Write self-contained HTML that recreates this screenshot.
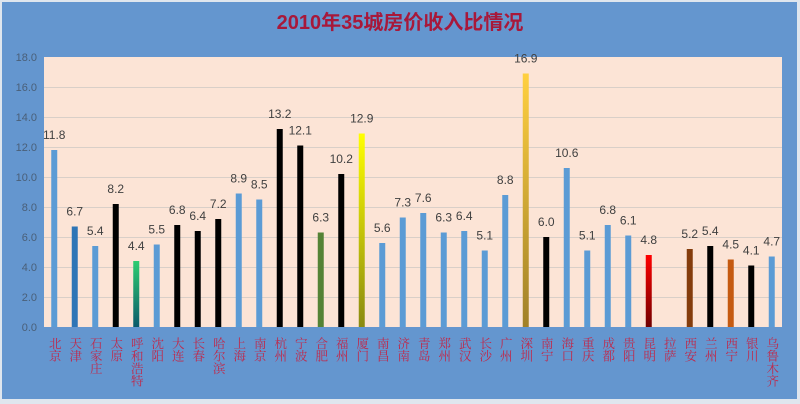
<!DOCTYPE html>
<html><head><meta charset="utf-8"><style>
html,body{margin:0;padding:0;background:#dfe6ee}
svg{display:block}
.v{font-family:"Liberation Sans",sans-serif;font-size:12px;fill:#404040;text-anchor:middle}
.y{font-family:"Liberation Sans",sans-serif;font-size:11px;fill:#4a5f78;text-anchor:end}
.c{font-family:"Liberation Serif","Noto Serif CJK SC",serif;font-size:12.5px;fill:#c0284a;writing-mode:tb;glyph-orientation-vertical:0}
</style></head><body>
<svg width="800" height="404" viewBox="0 0 800 404">
<defs>
<linearGradient id="g1" x1="0" y1="0" x2="0" y2="1"><stop offset="0" stop-color="#2ecc71"/><stop offset="1" stop-color="#0b5a6a"/></linearGradient>
<linearGradient id="g2" x1="0" y1="0" x2="0" y2="1"><stop offset="0" stop-color="#ffff00"/><stop offset="1" stop-color="#8a8a10"/></linearGradient>
<linearGradient id="g3" x1="0" y1="0" x2="0" y2="1"><stop offset="0" stop-color="#ffd040"/><stop offset="1" stop-color="#a08028"/></linearGradient>
<linearGradient id="g4" x1="0" y1="0" x2="0" y2="1"><stop offset="0" stop-color="#ff0000"/><stop offset="1" stop-color="#700000"/></linearGradient>
</defs>
<rect x="0" y="0" width="800" height="404" fill="#dfe6ee"/>
<rect x="2" y="2" width="795" height="397" fill="#6496cf"/>
<text x="400" y="29" text-anchor="middle" font-family="Liberation Sans,Noto Sans CJK SC,sans-serif" font-size="20" font-weight="bold" fill="#a8183a">2010年35城房价收入比情况</text>
<rect x="44" y="57" width="738" height="270" fill="#fce4d6"/>
<g stroke="#d9cfc8" stroke-width="1">
<line x1="44" x2="782" y1="87.5" y2="87.5"/><line x1="44" x2="782" y1="117.5" y2="117.5"/><line x1="44" x2="782" y1="147.5" y2="147.5"/><line x1="44" x2="782" y1="177.5" y2="177.5"/><line x1="44" x2="782" y1="207.5" y2="207.5"/><line x1="44" x2="782" y1="237.5" y2="237.5"/><line x1="44" x2="782" y1="267.5" y2="267.5"/><line x1="44" x2="782" y1="297.5" y2="297.5"/>
</g>
<g>
<text class="y" x="37" y="61">18.0</text><text class="y" x="37" y="91">16.0</text><text class="y" x="37" y="121">14.0</text><text class="y" x="37" y="151">12.0</text><text class="y" x="37" y="181">10.0</text><text class="y" x="37" y="211">8.0</text><text class="y" x="37" y="241">6.0</text><text class="y" x="37" y="271">4.0</text><text class="y" x="37" y="301">2.0</text><text class="y" x="37" y="331">0.0</text>
</g>
<g>
<rect x="51.25" y="150" width="6" height="177" fill="#5b9bd5"/>
<rect x="71.75" y="226.5" width="6" height="100.5" fill="#2e75b6"/>
<rect x="92.25" y="246" width="6" height="81" fill="#5b9bd5"/>
<rect x="112.75" y="204" width="6" height="123" fill="#000"/>
<rect x="133.25" y="261" width="6" height="66" fill="url(#g1)"/>
<rect x="153.75" y="244.5" width="6" height="82.5" fill="#5b9bd5"/>
<rect x="174.25" y="225" width="6" height="102" fill="#000"/>
<rect x="194.75" y="231" width="6" height="96" fill="#000"/>
<rect x="215.25" y="219" width="6" height="108" fill="#000"/>
<rect x="235.75" y="193.5" width="6" height="133.5" fill="#5b9bd5"/>
<rect x="256.25" y="199.5" width="6" height="127.5" fill="#5b9bd5"/>
<rect x="276.75" y="129" width="6" height="198" fill="#000"/>
<rect x="297.25" y="145.5" width="6" height="181.5" fill="#000"/>
<rect x="317.75" y="232.5" width="6" height="94.5" fill="#548235"/>
<rect x="338.25" y="174" width="6" height="153" fill="#000"/>
<rect x="358.75" y="133.5" width="6" height="193.5" fill="url(#g2)"/>
<rect x="379.25" y="243" width="6" height="84" fill="#5b9bd5"/>
<rect x="399.75" y="217.5" width="6" height="109.5" fill="#5b9bd5"/>
<rect x="420.25" y="213" width="6" height="114" fill="#5b9bd5"/>
<rect x="440.75" y="232.5" width="6" height="94.5" fill="#5b9bd5"/>
<rect x="461.25" y="231" width="6" height="96" fill="#5b9bd5"/>
<rect x="481.75" y="250.5" width="6" height="76.5" fill="#5b9bd5"/>
<rect x="502.25" y="195" width="6" height="132" fill="#5b9bd5"/>
<rect x="522.75" y="73.5" width="6" height="253.5" fill="url(#g3)"/>
<rect x="543.25" y="237" width="6" height="90" fill="#000"/>
<rect x="563.75" y="168" width="6" height="159" fill="#5b9bd5"/>
<rect x="584.25" y="250.5" width="6" height="76.5" fill="#5b9bd5"/>
<rect x="604.75" y="225" width="6" height="102" fill="#5b9bd5"/>
<rect x="625.25" y="235.5" width="6" height="91.5" fill="#5b9bd5"/>
<rect x="645.75" y="255" width="6" height="72" fill="url(#g4)"/>
<rect x="686.75" y="249" width="6" height="78" fill="#843c0c"/>
<rect x="707.25" y="246" width="6" height="81" fill="#000"/>
<rect x="727.75" y="259.5" width="6" height="67.5" fill="#c55a11"/>
<rect x="748.25" y="265.5" width="6" height="61.5" fill="#000"/>
<rect x="768.75" y="256.5" width="6" height="70.5" fill="#5b9bd5"/>
</g>
<g>
<text class="v" x="54.25" y="139">11.8</text>
<text class="v" x="74.75" y="215.5">6.7</text>
<text class="v" x="95.25" y="235">5.4</text>
<text class="v" x="115.75" y="193">8.2</text>
<text class="v" x="136.25" y="250">4.4</text>
<text class="v" x="156.75" y="233.5">5.5</text>
<text class="v" x="177.25" y="214">6.8</text>
<text class="v" x="197.75" y="220">6.4</text>
<text class="v" x="218.25" y="208">7.2</text>
<text class="v" x="238.75" y="182.5">8.9</text>
<text class="v" x="259.25" y="188.5">8.5</text>
<text class="v" x="279.75" y="118">13.2</text>
<text class="v" x="300.25" y="134.5">12.1</text>
<text class="v" x="320.75" y="221.5">6.3</text>
<text class="v" x="341.25" y="163">10.2</text>
<text class="v" x="361.75" y="122.5">12.9</text>
<text class="v" x="382.25" y="232">5.6</text>
<text class="v" x="402.75" y="206.5">7.3</text>
<text class="v" x="423.25" y="202">7.6</text>
<text class="v" x="443.75" y="221.5">6.3</text>
<text class="v" x="464.25" y="220">6.4</text>
<text class="v" x="484.75" y="239.5">5.1</text>
<text class="v" x="505.25" y="184">8.8</text>
<text class="v" x="525.75" y="62.5">16.9</text>
<text class="v" x="546.25" y="226">6.0</text>
<text class="v" x="566.75" y="157">10.6</text>
<text class="v" x="587.25" y="239.5">5.1</text>
<text class="v" x="607.75" y="214">6.8</text>
<text class="v" x="628.25" y="224.5">6.1</text>
<text class="v" x="648.75" y="244">4.8</text>
<text class="v" x="689.75" y="238">5.2</text>
<text class="v" x="710.25" y="235">5.4</text>
<text class="v" x="730.75" y="248.5">4.5</text>
<text class="v" x="751.25" y="254.5">4.1</text>
<text class="v" x="771.75" y="245.5">4.7</text>
</g>
<g>
<text class="c" x="54.25" y="337">北京</text>
<text class="c" x="74.75" y="337">天津</text>
<text class="c" x="95.25" y="337">石家庄</text>
<text class="c" x="115.75" y="337">太原</text>
<text class="c" x="136.25" y="337">呼和浩特</text>
<text class="c" x="156.75" y="337">沈阳</text>
<text class="c" x="177.25" y="337">大连</text>
<text class="c" x="197.75" y="337">长春</text>
<text class="c" x="218.25" y="337">哈尔滨</text>
<text class="c" x="238.75" y="337">上海</text>
<text class="c" x="259.25" y="337">南京</text>
<text class="c" x="279.75" y="337">杭州</text>
<text class="c" x="300.25" y="337">宁波</text>
<text class="c" x="320.75" y="337">合肥</text>
<text class="c" x="341.25" y="337">福州</text>
<text class="c" x="361.75" y="337">厦门</text>
<text class="c" x="382.25" y="337">南昌</text>
<text class="c" x="402.75" y="337">济南</text>
<text class="c" x="423.25" y="337">青岛</text>
<text class="c" x="443.75" y="337">郑州</text>
<text class="c" x="464.25" y="337">武汉</text>
<text class="c" x="484.75" y="337">长沙</text>
<text class="c" x="505.25" y="337">广州</text>
<text class="c" x="525.75" y="337">深圳</text>
<text class="c" x="546.25" y="337">南宁</text>
<text class="c" x="566.75" y="337">海口</text>
<text class="c" x="587.25" y="337">重庆</text>
<text class="c" x="607.75" y="337">成都</text>
<text class="c" x="628.25" y="337">贵阳</text>
<text class="c" x="648.75" y="337">昆明</text>
<text class="c" x="669.25" y="337">拉萨</text>
<text class="c" x="689.75" y="337">西安</text>
<text class="c" x="710.25" y="337">兰州</text>
<text class="c" x="730.75" y="337">西宁</text>
<text class="c" x="751.25" y="337">银川</text>
<text class="c" x="771.75" y="337">乌鲁木齐</text>
</g>
</svg>
</body></html>
